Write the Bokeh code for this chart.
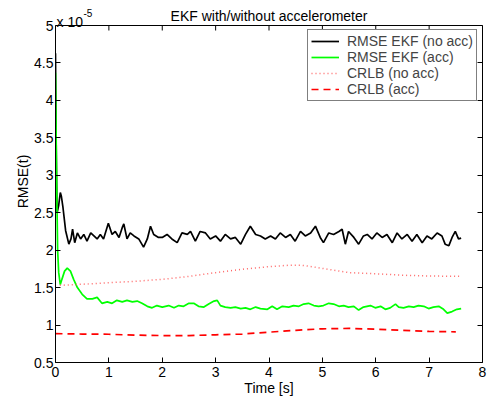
import math
from bokeh.plotting import figure
from bokeh.models import (Range1d, FixedTicker, CustomJSTickFormatter, LinearAxis,
                          Legend, LegendItem, Span)
from bokeh.core.properties import value
from bokeh.embed import file_html
from bokeh.resources import INLINE

# ---- data (values in units of 1e-5) ----
t_noacc = [0.0, 0.01, 0.02, 0.03, 0.06, 0.09, 0.11, 0.14, 0.19, 0.25,
           0.29, 0.32, 0.36, 0.41, 0.47, 0.53, 0.59, 0.66, 0.72, 0.78,
           0.84, 0.90, 0.99, 1.06, 1.12, 1.19, 1.25, 1.28, 1.34, 1.40,
           1.47, 1.56, 1.65, 1.72, 1.78, 1.84, 1.93, 2.00, 2.09, 2.18,
           2.28, 2.37, 2.47, 2.53, 2.62, 2.71, 2.81, 2.90, 3.00, 3.09,
           3.18, 3.28, 3.37, 3.47, 3.56, 3.65, 3.75, 3.84, 3.93, 4.03,
           4.12, 4.21, 4.31, 4.40, 4.49, 4.59, 4.68, 4.78, 4.87, 4.96,
           5.02, 5.12, 5.21, 5.31, 5.37, 5.43, 5.49, 5.59, 5.68, 5.77,
           5.84, 5.93, 6.02, 6.12, 6.21, 6.31, 6.40, 6.49, 6.59, 6.68,
           6.77, 6.87, 6.96, 7.05, 7.15, 7.24, 7.30, 7.37, 7.43, 7.49,
           7.55, 7.60]
rmse_noacc = [4.63, 3.6, 2.9, 2.5, 2.6, 2.77, 2.72, 2.57, 2.26, 2.08,
              2.15, 2.28, 2.10, 2.23, 2.15, 2.21, 2.12, 2.23, 2.19, 2.15,
              2.21, 2.15, 2.36, 2.21, 2.25, 2.17, 2.30, 2.35, 2.15, 2.23,
              2.19, 2.15, 2.04, 2.15, 2.32, 2.21, 2.17, 2.17, 2.21, 2.15,
              2.10, 2.23, 2.21, 2.25, 2.12, 2.25, 2.23, 2.15, 2.19, 2.12,
              2.21, 2.15, 2.17, 2.08, 2.21, 2.32, 2.21, 2.19, 2.15, 2.19,
              2.15, 2.23, 2.17, 2.21, 2.12, 2.25, 2.19, 2.23, 2.32, 2.17,
              2.10, 2.23, 2.21, 2.25, 2.28, 2.08, 2.25, 2.17, 2.08, 2.19,
              2.21, 2.15, 2.23, 2.17, 2.21, 2.10, 2.23, 2.15, 2.21, 2.12,
              2.21, 2.10, 2.19, 2.15, 2.23, 2.19, 2.08, 2.06, 2.17, 2.25,
              2.15, 2.16]

t_acc = [0.0, 0.02, 0.04, 0.06, 0.09, 0.12, 0.17, 0.22, 0.28, 0.34,
         0.41, 0.50, 0.59, 0.69, 0.78, 0.87, 0.97, 1.06, 1.15, 1.25,
         1.34, 1.44, 1.53, 1.62, 1.72, 1.81, 1.90, 2.00, 2.12, 2.22,
         2.31, 2.40, 2.50, 2.59, 2.68, 2.78, 2.87, 2.97, 3.03, 3.09,
         3.18, 3.28, 3.37, 3.47, 3.56, 3.65, 3.75, 3.84, 3.97, 4.06,
         4.15, 4.25, 4.37, 4.46, 4.56, 4.65, 4.74, 4.84, 4.93, 5.02,
         5.12, 5.21, 5.31, 5.40, 5.49, 5.59, 5.68, 5.77, 5.90, 5.99,
         6.09, 6.18, 6.27, 6.37, 6.43, 6.52, 6.62, 6.71, 6.80, 6.90,
         6.99, 7.08, 7.18, 7.27, 7.34, 7.43, 7.52, 7.60]
rmse_acc = [4.37, 3.0, 2.0, 1.7, 1.54, 1.61, 1.72, 1.76, 1.72, 1.61,
            1.50, 1.41, 1.35, 1.35, 1.37, 1.29, 1.31, 1.29, 1.33, 1.31,
            1.33, 1.31, 1.32, 1.29, 1.25, 1.23, 1.26, 1.24, 1.26, 1.23,
            1.26, 1.25, 1.29, 1.29, 1.25, 1.24, 1.28, 1.32, 1.33, 1.26,
            1.24, 1.23, 1.24, 1.22, 1.23, 1.21, 1.24, 1.22, 1.21, 1.25,
            1.21, 1.25, 1.24, 1.26, 1.25, 1.28, 1.29, 1.26, 1.25, 1.26,
            1.29, 1.28, 1.25, 1.26, 1.24, 1.25, 1.20, 1.24, 1.26, 1.23,
            1.25, 1.21, 1.23, 1.28, 1.24, 1.23, 1.25, 1.24, 1.26, 1.25,
            1.22, 1.24, 1.25, 1.21, 1.16, 1.18, 1.21, 1.22]

t_crlb_noacc = [0.08, 0.5, 1.0, 1.5, 2.0, 2.5, 3.0, 3.5, 4.0, 4.4,
                4.6, 4.8, 5.1, 5.5, 6.0, 6.5, 7.0, 7.6]
crlb_noacc = [1.53, 1.545, 1.565, 1.585, 1.61, 1.65, 1.70, 1.745, 1.78, 1.80,
              1.80, 1.78, 1.745, 1.70, 1.685, 1.665, 1.655, 1.65]

t_crlb_acc = [0.0, 0.5, 1.0, 1.5, 2.0, 2.5, 3.0, 3.5, 4.0, 4.5,
              5.0, 5.5, 6.0, 6.5, 7.0, 7.5]
crlb_acc = [0.885, 0.88, 0.877, 0.865, 0.86, 0.86, 0.87, 0.88, 0.905, 0.93,
            0.95, 0.955, 0.945, 0.93, 0.915, 0.91]

x_ticks = [0, 1, 2, 3, 4, 5, 6, 7, 8]
y_ticks = [0.5, 1, 1.5, 2, 2.5, 3, 3.5, 4, 4.5, 5]

title_text = "EKF with/without accelerometer"
scale_text = "x 10"
scale_exp = "-5"
x_label = "Time [s]"
y_label = "RMSE(t)"
names = ["RMSE EKF (no acc)", "RMSE EKF (acc)", "CRLB (no acc)", "CRLB (acc)"]

FONT = "Liberation Sans"

Y0, Y1 = 0.5, 5.0          # axes box limits
BOX_PX = 337               # height of the axes box in pixels
HEAD_PX = 25               # room above the box for title / multiplier
FRAME_PX = BOX_PX + HEAD_PX
y_top = Y1 + (Y1 - Y0) * HEAD_PX / BOX_PX

p = figure(frame_width=427, frame_height=FRAME_PX,
           x_range=Range1d(0, 8), y_range=Range1d(Y0, y_top),
           output_backend="svg", toolbar_location=None, title_location=None,
           min_border_left=55, min_border_top=0, min_border_right=7,
           min_border_bottom=0)
# pixel range for placing the header texts
p.extra_y_ranges = {"px": Range1d(0, FRAME_PX)}
p.outline_line_color = None
p.xgrid.visible = False
p.ygrid.visible = False
p.background_fill_color = "white"
p.border_fill_color = "white"

fmt = CustomJSTickFormatter(code="return tick.toString();")
blank = CustomJSTickFormatter(code="return '';")

for ax, ticks in ((p.xaxis[0], x_ticks), (p.yaxis[0], y_ticks)):
    ax.ticker = FixedTicker(ticks=ticks)
    ax.formatter = fmt
    ax.major_tick_in = 5
    ax.major_tick_out = 0
    ax.minor_tick_line_color = None
    ax.axis_line_color = "black"
    ax.major_tick_line_color = "black"
    ax.major_label_text_font = FONT
    ax.major_label_text_font_size = "14px"
    ax.major_label_text_color = "black"
    ax.axis_label_text_font = FONT
    ax.axis_label_text_font_size = "14px"
    ax.axis_label_text_font_style = "normal"
    ax.axis_label_text_color = "black"

p.yaxis[0].bounds = (Y0, Y1)
p.xaxis[0].axis_label = x_label
p.yaxis[0].axis_label = y_label
p.xaxis[0].major_label_standoff = 4
p.xaxis[0].axis_label_standoff = 0
p.yaxis[0].major_label_standoff = 2
p.yaxis[0].axis_label_standoff = 0

right = LinearAxis(ticker=FixedTicker(ticks=y_ticks), formatter=blank,
                   bounds=(Y0, Y1), major_label_standoff=0,
                   major_label_text_font_size="0px", axis_label_standoff=0,
                   major_tick_in=5, major_tick_out=0,
                   minor_tick_line_color=None, axis_line_color="black")
p.add_layout(right, "right")

# top edge of the axes box and its inward ticks
p.add_layout(Span(location=Y1, dimension="width", line_color="black",
                  line_width=1))
p.ray(x=x_ticks, y=[Y1] * len(x_ticks), length=5, length_units="screen",
      angle=-math.pi / 2, line_color="black", line_width=1)

r1 = p.line(t_noacc, rmse_noacc, line_color="black", line_width=1.7)
r2 = p.line(t_acc, rmse_acc, line_color="#00ff00", line_width=1.7)
r3 = p.line(t_crlb_noacc, crlb_noacc, line_color="#ff6666", line_width=1.5,
            line_dash="1 3")
r4 = p.line(t_crlb_acc, crlb_acc, line_color="#ff0000", line_width=1.7,
            line_dash="7 5")

legend = Legend(items=[LegendItem(label=n, renderers=[r]) for n, r in
                       zip(names, [r1, r2, r3, r4])],
                location=(252, 261), border_line_color="black",
                border_line_width=1, background_fill_alpha=1,
                label_text_font=FONT, label_text_font_size="14px",
                glyph_width=28, glyph_height=14, label_height=14,
                spacing=0, padding=3, margin=0, label_standoff=8)
p.add_layout(legend)

# header texts (pixel coordinates measured from the frame bottom)
p.text(x=[4], y=[FRAME_PX - 15], text=[title_text], text_align="center",
       text_baseline="alphabetic", text_font=value(FONT),
       text_font_size="14px", text_color="black", y_range_name="px")
p.text(x=[0], y=[FRAME_PX - 21], text=[scale_text], text_align="left",
       text_baseline="alphabetic", x_offset=1, text_font=value(FONT),
       text_font_size="14px", text_color="black", y_range_name="px")
p.text(x=[0], y=[FRAME_PX - 12], text=[scale_exp], text_align="left",
       text_baseline="alphabetic", x_offset=28, text_font=value(FONT),
       text_font_size="10px", text_color="black", y_range_name="px")

open("out.html", "w").write(file_html(p, INLINE))
